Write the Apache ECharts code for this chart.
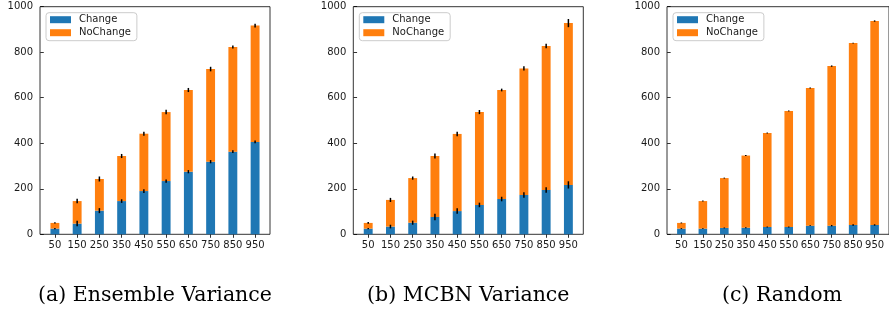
<!DOCTYPE html>
<html>
<head>
<meta charset="utf-8">
<title>Change / NoChange</title>
<script src="https://cdn.jsdelivr.net/npm/echarts@6/dist/echarts.min.js"></script>
<style>
  html, body { margin: 0; padding: 0; background: #fff; }
  #chart { width: 889px; height: 311px; }
</style>
</head>
<body>
<div id="chart"></div>
<script>
// 数据：每个面板的 Change / NoChange 堆叠值和误差
var categories = [50, 150, 250, 350, 450, 550, 650, 750, 850, 950];
var yTicks = [0, 200, 400, 600, 800, 1000];

// (a) Ensemble Variance
var ensChange = [25, 47, 104, 146, 190, 234, 275, 319, 363, 406];
var ensNoChange = [25, 99, 139, 198, 252, 303, 359, 407, 460, 511];
var ensChangeErr = [3, 12, 11, 8, 8, 7, 7, 7, 6, 6];
var ensTotalErr = [3, 10, 11, 9, 9, 10, 9, 10, 7, 8];

// (b) MCBN Variance
var mcbChange = [25, 34, 51, 76, 102, 129, 155, 173, 195, 217];
var mcbNoChange = [25, 117, 196, 268, 339, 408, 479, 556, 632, 711];
var mcbChangeErr = [3, 8, 9, 14, 12, 10, 10, 12, 12, 16];
var mcbTotalErr = [4, 9, 7, 11, 10, 9, 6, 9, 10, 18];

// (c) Random
var rndChange = [25, 25, 28, 29, 32, 32, 38, 38, 41, 41];
var rndNoChange = [25, 121, 219, 317, 413, 510, 605, 701, 799, 896];
var rndChangeErr = [2, 2, 2, 2, 2, 2, 2, 3, 3, 3];
var rndTotalErr = [2, 2, 2, 2, 2, 2, 2, 3, 2, 3];

var captions = ['(a) Ensemble Variance', '(b) MCBN Variance', '(c) Random'];

var panels = [
    {change: ensChange, noChange: ensNoChange, cErr: ensChangeErr, tErr: ensTotalErr},
    {change: mcbChange, noChange: mcbNoChange, cErr: mcbChangeErr, tErr: mcbTotalErr},
    {change: rndChange, noChange: rndNoChange, cErr: rndChangeErr, tErr: rndTotalErr}
];

var gridLeft = [40, 353.3, 667];
var gridTop = 6.7;
var gridW = 230;
var gridH = 227.6;
var barUnits = 40;   // 柱宽（x 轴数据单位）
var blue = '#1f77b4';
var orange = '#ff7f0e';
var tickColor = '#1a1a1a';

// 堆叠柱：data = [x, 底, 顶]
function renderBar(params, api) {
    var x = api.value(0);
    var p0 = api.coord([x, api.value(1)]);
    var p1 = api.coord([x, api.value(2)]);
    var w = api.size([barUnits, 0])[0];
    return {
        type: 'rect',
        shape: {x: p0[0] - w / 2, y: p1[1], width: w, height: p0[1] - p1[1]},
        style: {fill: api.visual('color')}
    };
}

// 误差线：data = [x, 中心, 误差]
function renderErr(params, api) {
    var x = api.value(0), c = api.value(1), e = api.value(2);
    var p1 = api.coord([x, c - e]);
    var p2 = api.coord([x, c + e]);
    return {
        type: 'line',
        shape: {x1: p1[0], y1: p1[1], x2: p2[0], y2: p2[1]},
        style: {stroke: '#000', lineWidth: 1.5}
    };
}

var grid = [], xAxis = [], yAxis = [], legend = [], series = [], graphic = [];

panels.forEach(function (p, i) {
    grid.push({
        left: gridLeft[i], top: gridTop, width: gridW, height: gridH,
        show: true, borderColor: '#000', borderWidth: 0.8,
        backgroundColor: 'transparent'
    });
    xAxis.push({
        type: 'value', gridIndex: i, min: -17, max: 1017,
        axisLine: {show: false},
        splitLine: {show: false},
        axisTick: {show: true, length: 3.5, customValues: categories,
                   lineStyle: {color: '#000', width: 0.8}},
        axisLabel: {customValues: categories, margin: 6,
                    color: tickColor, fontSize: 10, fontFamily: 'DejaVu Sans'}
    });
    yAxis.push({
        type: 'value', gridIndex: i, min: 0, max: 1000, interval: 200,
        axisLine: {show: false},
        splitLine: {show: false},
        axisTick: {show: true, length: 3.5, lineStyle: {color: '#000', width: 0.8}},
        axisLabel: {margin: 7, color: tickColor, fontSize: 10, fontFamily: 'DejaVu Sans',
                    customValues: yTicks,
                    formatter: function (v) { return String(v); }}
    });
    legend.push({
        orient: 'vertical',
        left: gridLeft[i] + 6,
        top: 12.7,
        data: ['Change', 'NoChange'],
        icon: 'rect',
        itemWidth: 21, itemHeight: 7, itemGap: 3,
        padding: [2, 6, 3, 4],
        borderColor: '#cccccc', borderWidth: 1, borderRadius: 3,
        backgroundColor: '#fff',
        textStyle: {fontSize: 10, fontFamily: 'DejaVu Sans', color: tickColor,
                    padding: [0, 0, 0, 3]},
        selectedMode: false
    });

    var changeData = [], noChangeData = [], errData = [];
    categories.forEach(function (c, k) {
        var top = p.change[k] + p.noChange[k];
        changeData.push([c, 0, p.change[k]]);
        noChangeData.push([c, p.change[k], top]);
        errData.push([c, p.change[k], p.cErr[k]]);
        errData.push([c, top, p.tErr[k]]);
    });
    series.push({
        name: 'Change', type: 'custom', xAxisIndex: i, yAxisIndex: i,
        renderItem: renderBar, data: changeData, encode: {x: 0, y: [1, 2]},
        itemStyle: {color: blue}, silent: true
    });
    series.push({
        name: 'NoChange', type: 'custom', xAxisIndex: i, yAxisIndex: i,
        renderItem: renderBar, data: noChangeData, encode: {x: 0, y: [1, 2]},
        itemStyle: {color: orange}, silent: true
    });
    series.push({
        type: 'custom', xAxisIndex: i, yAxisIndex: i, z: 5,
        renderItem: renderErr, data: errData,
        encode: {x: 0, y: 1}, silent: true
    });

    graphic.push({
        type: 'text',
        x: gridLeft[i] + gridW / 2,
        y: 296,
        style: {
            text: captions[i], fill: '#000',
            font: '20.5px "DejaVu Serif"',
            textAlign: 'center', textVerticalAlign: 'middle'
        }
    });
});

var chart = echarts.init(document.getElementById('chart'));
chart.setOption({
    animation: false,
    backgroundColor: '#fff',
    grid: grid,
    xAxis: xAxis,
    yAxis: yAxis,
    legend: legend,
    series: series,
    graphic: graphic
});
</script>
</body>
</html>
